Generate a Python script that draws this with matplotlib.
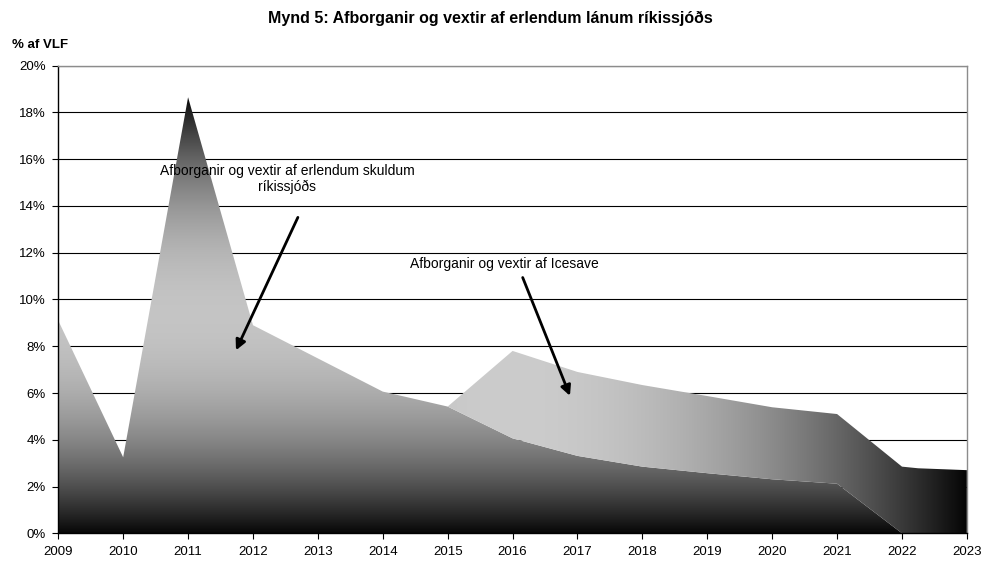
import numpy as np
import matplotlib
matplotlib.use("Agg")
import matplotlib.pyplot as plt
from matplotlib.patches import Polygon

plt.rcParams["font.family"] = ["Liberation Sans", "DejaVu Sans"]

# data (% of GDP)
years = [2009, 2010, 2011, 2012, 2013, 2014, 2015, 2016, 2017, 2018, 2019,
         2020, 2021, 2022, 2022.25, 2023]
debt = [9.1, 3.25, 18.65, 8.9, 7.48, 6.06, 5.42, 4.06, 3.31, 2.85, 2.57,
        2.31, 2.12, 0.0, 0.0, 0.0]
icesave = [0.0, 0.0, 0.0, 0.0, 0.0, 0.0, 0.0, 3.74, 3.59, 3.49, 3.30,
           3.08, 2.98, 2.85, 2.78, 2.70]
year_ticks = list(range(2009, 2024))
pct_ticks = list(range(0, 21, 2))

title = "Mynd 5: Afborganir og vextir af erlendum lánum ríkissjóðs"
ylabel = "% af VLF"
label_debt = "Afborganir og vextir af erlendum skuldum\nríkissjóðs"
label_icesave = "Afborganir og vextir af Icesave"

x = np.array(years, dtype=float)
y1 = np.array(debt)
y2 = y1 + np.array(icesave)

fig = plt.figure(figsize=(9.81, 5.63), dpi=100)
ax = fig.add_axes([0.0594, 0.0528, 0.9262, 0.8305])
ax.set_axisbelow(True)
ax.yaxis.grid(True, color="black", linewidth=0.8)

# lower area: vertical dark-light-dark gradient
peak = y1.max()
v = np.linspace(0, peak, 400)
t = np.abs(v - peak / 2) / (peak / 2)
g = 0.74 * (1 - t ** 2) + 0.03
img = np.dstack([g, g, g]).reshape(len(v), 1, 3)
im1 = ax.imshow(img, extent=[x[0], x[-1], 0, peak], origin="lower",
                aspect="auto", zorder=2, interpolation="bilinear")
poly1 = Polygon(np.column_stack([np.r_[x, x[::-1]], np.r_[y1, np.zeros_like(y1)]]),
                closed=True, facecolor="none", edgecolor="none")
ax.add_patch(poly1)
im1.set_clip_path(poly1)

# upper area: horizontal light-to-dark gradient
h = np.linspace(x[0], x[-1], 600)
mid = (x[0] + x[-1]) / 2
th = np.abs(h - mid) / (mid - x[0])
gh = 0.78 * (1 - th ** 2) + 0.02
img2 = np.dstack([gh, gh, gh]).reshape(1, len(h), 3)
im2 = ax.imshow(img2, extent=[x[0], x[-1], 0, 20], origin="lower",
                aspect="auto", zorder=2, interpolation="bilinear")
poly2 = Polygon(np.column_stack([np.r_[x, x[::-1]], np.r_[y2, y1[::-1]]]),
                closed=True, facecolor="none", edgecolor="none")
ax.add_patch(poly2)
im2.set_clip_path(poly2)

ax.set_xlim(2009, 2023)
ax.set_ylim(0, 20)
ax.set_xticks(year_ticks)
ax.set_xticklabels([str(yr) for yr in year_ticks], fontsize=9.5)
ax.set_yticks(pct_ticks)
ax.set_yticklabels([f"{p}%" for p in pct_ticks], fontsize=9.5)
ax.tick_params(axis="both", direction="out", length=4, width=0.8, color="black", pad=5)

for s in ["left", "bottom"]:
    ax.spines[s].set_color("black")
    ax.spines[s].set_linewidth(1.0)
for s in ["top", "right"]:
    ax.spines[s].set_color("#8c8c8c")
    ax.spines[s].set_linewidth(1.0)

# annotations
ax.text(2012.53, 15.15, label_debt, ha="center", va="center", fontsize=10,
        zorder=5, linespacing=1.2)
ax.annotate("", xy=(2011.72, 7.72), xytext=(2012.71, 13.62),
            arrowprops=dict(arrowstyle="-|>", color="black", lw=2,
                            mutation_scale=15), zorder=5)
ax.text(2015.88, 11.52, label_icesave, ha="center", va="center", fontsize=10,
        zorder=5)
ax.annotate("", xy=(2016.9, 5.77), xytext=(2016.14, 11.05),
            arrowprops=dict(arrowstyle="-|>", color="black", lw=2,
                            mutation_scale=15), zorder=5)

fig.text(0.5, 0.968, title, ha="center", va="center", fontsize=11.5,
         fontweight="bold")
fig.text(0.012, 0.92, ylabel, ha="left", va="center", fontsize=9.5,
         fontweight="bold")

fig.savefig("out.png", dpi=100)
